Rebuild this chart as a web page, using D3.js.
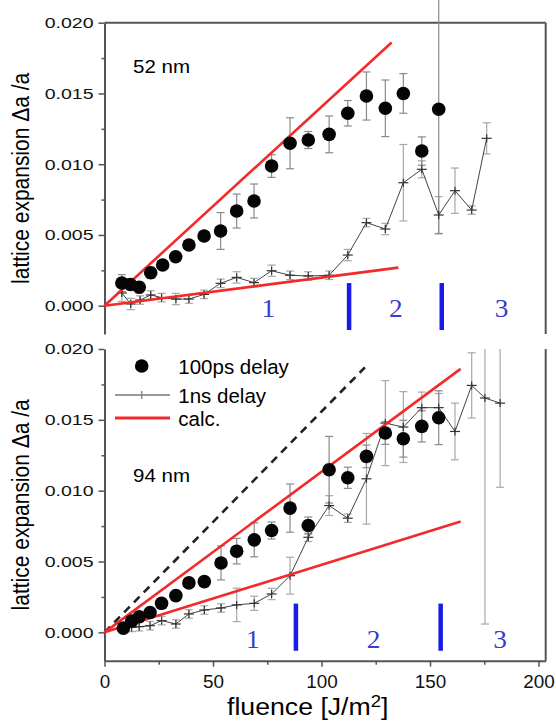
<!DOCTYPE html>
<html>
<head>
<meta charset="utf-8">
<script src="https://cdn.jsdelivr.net/npm/d3@7"></script>
<style>
body { margin: 0; background: #fff; }
svg { display: block; font-family: "Liberation Sans", Arial, sans-serif; }
</style>
</head>
<body>
<div id="chart"></div>
<script>
// --- data (fluence in J/m2, expansion in da/a) ---

// top panel, 52 nm
const topPsFluence = [8, 12, 16, 21.3, 26.8, 32.8, 38.9, 45.9, 53.5, 60.9, 68.9, 77.0, 85.5, 93.9, 103.5, 112.1, 120.7, 129.4, 137.7, 146.2, 154.0]
const topPsValue = [0.0016, 0.0015, 0.0013, 0.00233, 0.00288, 0.00346, 0.00429, 0.00493, 0.00528, 0.00669, 0.0074, 0.00987, 0.01148, 0.01171, 0.01211, 0.0136, 0.01482, 0.01395, 0.0150, 0.01093, 0.01388]
const topPsError = [0.0006, 0.0004, 0.0004, 0.0004, 0.0003, 0.0003, 0.0003, 0.0003, 0.0013, 0.0012, 0.0012, 0.0008, 0.0018, 0.0006, 0.0013, 0.0009, 0.0017, 0.0020, 0.0014, 0.0010, 0.0088]

const topNsFluence = [8, 12.1, 16.4, 21.3, 26.3, 32.9, 38.9, 45.9, 53.5, 60.9, 68.9, 77, 85.5, 93.9, 103.5, 112.1, 120.7, 129.4, 137.7, 146.2, 154, 161.5, 169.2, 176.1]
const topNsValue = [0.0009, 0.00012, 0.0004, 0.00076, 0.00057, 0.00047, 0.00047, 0.0008, 0.00158, 0.0020, 0.00163, 0.00247, 0.00215, 0.0021, 0.00215, 0.00358, 0.00587, 0.00542, 0.00869, 0.00964, 0.00641, 0.00813, 0.00676, 0.01183]
const topNsError = [0.0006, 0.0004, 0.0003, 0.0003, 0.0003, 0.0004, 0.0003, 0.0003, 0.0003, 0.0004, 0.0003, 0.0004, 0.0003, 0.0003, 0.0003, 0.0004, 0.0003, 0.0004, 0.0027, 0.0006, 0.0013, 0.0016, 0.0003, 0.0011]

// bottom panel, 94 nm
const botPsFluence = [8.7, 12.5, 16, 21, 26.3, 32.9, 38.9, 46, 53.7, 60.9, 69, 77, 85.5, 93.9, 103.5, 112.1, 120.7, 129.4, 137.7, 146.2, 154]
const botPsValue = [0.0003, 0.0008, 0.0011, 0.0014, 0.00205, 0.00259, 0.00349, 0.00358, 0.0049, 0.00573, 0.00653, 0.00719, 0.00877, 0.00754, 0.01148, 0.01091, 0.01242, 0.01407, 0.01367, 0.01454, 0.01515]
const botPsError = [0.0003, 0.0003, 0.0003, 0.0003, 0.0003, 0.0003, 0.0003, 0.0003, 0.0012, 0.0009, 0.0012, 0.0006, 0.0017, 0.0006, 0.00235, 0.00075, 0.0008, 0.0008, 0.0013, 0.0011, 0.0019]

const botNsFluence = [8.7, 12.5, 16, 21, 26.3, 32.9, 38.9, 46, 53.7, 60.9, 69, 77, 85.5, 93.9, 103.5, 112.1, 120.7, 129.4, 137.7, 146.2, 154, 161.5, 169.2, 175.3, 182.3]
const botNsValue = [0.00024, 0.00035, 0.0004, 0.00047, 0.00083, 0.00059, 0.0013, 0.00158, 0.00172, 0.00194, 0.00205, 0.00271, 0.0040, 0.00671, 0.00895, 0.00806, 0.01084, 0.01477, 0.01449, 0.01586, 0.01586, 0.01418, 0.01743, 0.01654, 0.01618]
const botNsError = [0.0003, 0.0003, 0.0003, 0.0003, 0.0003, 0.0003, 0.0003, 0.0003, 0.0003, 0.00118, 0.0005, 0.0004, 0.0013, 0.0003, 0.0007, 0.0003, 0.0032, 0.0030, 0.0025, 0.0011, 0.0010, 0.0020, 0.0023, 0.01595, 0.00594]

// calculated lines (start and end points)
const topCalcHighF = [0, 132.3], topCalcHighV = [0, 0.0186]
const topCalcLowF = [0, 135.4], topCalcLowV = [0, 0.00269]
const botCalcHighF = [0, 164.1], botCalcHighV = [0, 0.0186]
const botCalcLowF = [0, 164.1], botCalcLowV = [0, 0.00782]
const botDashF = [0, 120], botDashV = [0, 0.0187]

// regime markers
const topRegimeBars = [112.7, 155.4]
const botRegimeBars = [88.2, 154.9]
const regimeNames = ["1", "2", "3"]
const topRegimeLabelF = [75.5, 134.2, 183]
const botRegimeLabelF = [68.3, 124, 182.3]

const xTicks = [0, 50, 100, 150, 200]
const xMinor = [25, 75, 125, 175]
const yTicks = [0, 0.005, 0.010, 0.015, 0.020]
const yMinor = [0.0025, 0.0075, 0.0125, 0.0175]

const zip = (f, v, e) => f.map((d, i) => ({ f: d, v: v[i], e: e ? e[i] : 0 }))

// --- layout ---
const svg = d3.select("#chart").append("svg")
    .attr("width", 556)
    .attr("height", 721)

svg.append("rect").attr("width", 556).attr("height", 721).attr("fill", "#fff")

const x = d3.scaleLinear().domain([0, 203.3]).range([104.5, 545.7])
const yTop = d3.scaleLinear().domain([-0.002, 0.020]).range([334, 22.7])
const yBot = d3.scaleLinear().domain([-0.002, 0.020]).range([660.7, 349])

const axisColor = "#555"

// text with a slight horizontal stretch, as in the scanned figure
function label(g, px, py, str, size, sx, anchor) {
    return g.append("text")
        .attr("transform", "translate(" + px + "," + py + ") scale(" + sx + ",1)")
        .attr("text-anchor", anchor || "start")
        .style("font-size", size + "px")
        .text(str)
}

svg.append("clipPath").attr("id", "clipBot")
    .append("rect").attr("x", 0).attr("y", 349).attr("width", 556).attr("height", 372)

function drawPanel(y, ps, ns, calcs, dash, bars, labelF, name, isTop) {
    const g = svg.append("g")

    // left axis
    const ax = g.append("g")
        .attr("transform", "translate(" + x.range()[0] + ",0)")
        .call(d3.axisLeft(y).tickValues(yTicks).tickSize(6).tickSizeOuter(0).tickFormat(d3.format(".3f")))
    ax.select(".domain").attr("stroke", axisColor).attr("stroke-width", 2)
    ax.selectAll(".tick line").attr("stroke", axisColor).attr("stroke-width", 1.5)
    ax.selectAll(".tick text")
        .attr("x", null)
        .attr("fill", "#111")
        .attr("transform", "translate(-11,0) scale(1.26,1)")
        .style("font-size", "15.5px")
        .style("font-family", "'Liberation Sans', Arial, sans-serif")

    g.append("g")
        .attr("transform", "translate(" + x.range()[0] + ",0)")
        .call(d3.axisLeft(y).tickValues(yMinor).tickSize(3).tickFormat(""))
        .call(s => s.select(".domain").remove())
        .selectAll(".tick line").attr("stroke", axisColor).attr("stroke-width", 1.5)

    // frame
    g.append("line")
        .attr("x1", x.range()[1]).attr("x2", x.range()[1])
        .attr("y1", y.range()[1]).attr("y2", y.range()[0])
        .attr("stroke", axisColor).attr("stroke-width", 2)
    if (isTop) {
        g.append("line")
            .attr("x1", x.range()[0]).attr("x2", x.range()[1])
            .attr("y1", y.range()[1]).attr("y2", y.range()[1])
            .attr("stroke", axisColor).attr("stroke-width", 2)
    }

    // y label
    const cy = (y(0.020) + y(-0.002)) / 2
    g.append("text")
        .attr("transform", "translate(29," + cy + ") scale(1.15,1) rotate(-90)")
        .attr("text-anchor", "middle")
        .style("font-size", "21px")
        .text("lattice expansion \u0394a /a")

    const plot = g.append("g")
    if (!isTop) plot.attr("clip-path", "url(#clipBot)")

    // regime bars and digits
    plot.selectAll(".regime").data(bars).join("line")
        .attr("x1", d => x(d)).attr("x2", d => x(d))
        .attr("y1", y(isTop ? 0.0016 : 0.00203)).attr("y2", y(isTop ? -0.00172 : -0.0013))
        .attr("stroke", "#1a1ae6").attr("stroke-width", 4.5)
    labelF.forEach((f, i) => {
        label(plot, x(f), y(0) + (isTop ? 11 : 16), regimeNames[i], 26, 1.05, "middle")
            .style("font-family", "'Liberation Serif', 'Times New Roman', serif")
            .attr("fill", "#3b3bcf")
    })

    // dashed line
    if (dash) {
        plot.append("path")
            .datum(dash)
            .attr("fill", "none")
            .attr("stroke", "#222")
            .attr("stroke-width", 2.6)
            .attr("stroke-dasharray", "8,6")
            .attr("d", d3.line().x(d => x(d.f)).y(d => y(d.v)))
    }

    // error bars helper
    function errorBars(data, color) {
        const eb = plot.append("g").attr("stroke", color).attr("stroke-width", 1.2)
        data.forEach(d => {
            const px = x(d.f), y1 = y(d.v - d.e), y2 = y(d.v + d.e)
            eb.append("line").attr("x1", px).attr("x2", px).attr("y1", y1).attr("y2", y2)
            eb.append("line").attr("x1", px - 4).attr("x2", px + 4).attr("y1", y1).attr("y2", y1)
            eb.append("line").attr("x1", px - 4).attr("x2", px + 4).attr("y1", y2).attr("y2", y2)
        })
    }

    errorBars(ns, "#a8a8a8")
    errorBars(ps, "#8a8a8a")

    // 1 ns series line and cross markers
    plot.append("path")
        .datum(ns)
        .attr("fill", "none")
        .attr("stroke", "#444")
        .attr("stroke-width", 1)
        .attr("d", d3.line().x(d => x(d.f)).y(d => y(d.v)))
    const cross = plot.append("g").attr("stroke", "#333").attr("stroke-width", 1.2)
    ns.forEach(d => {
        cross.append("line").attr("x1", x(d.f) - 5).attr("x2", x(d.f) + 5).attr("y1", y(d.v)).attr("y2", y(d.v))
        cross.append("line").attr("x1", x(d.f)).attr("x2", x(d.f)).attr("y1", y(d.v) - 4).attr("y2", y(d.v) + 4)
    })

    // calculated red lines
    calcs.forEach(c => {
        plot.append("path")
            .datum(c)
            .attr("fill", "none")
            .attr("stroke", "#f22a2a")
            .attr("stroke-width", 2.6)
            .attr("d", d3.line().x(d => x(d.f)).y(d => y(d.v)))
    })

    // 100 ps points
    plot.selectAll(".pt").data(ps).join("circle")
        .attr("cx", d => x(d.f))
        .attr("cy", d => y(d.v))
        .attr("r", 6.8)
        .attr("fill", "#050505")

    // thickness label
    label(g, 133, y(0.020) + (isTop ? 50 : 133), name, 19, 1.08)
}

drawPanel(yTop,
    zip(topPsFluence, topPsValue, topPsError),
    zip(topNsFluence, topNsValue, topNsError),
    [zip(topCalcHighF, topCalcHighV), zip(topCalcLowF, topCalcLowV)],
    null, topRegimeBars, topRegimeLabelF, "52 nm", true)

drawPanel(yBot,
    zip(botPsFluence, botPsValue, botPsError),
    zip(botNsFluence, botNsValue, botNsError),
    [zip(botCalcHighF, botCalcHighV), zip(botCalcLowF, botCalcLowV)],
    zip(botDashF, botDashV), botRegimeBars, botRegimeLabelF, "94 nm", false)

// bottom x axis
const xa = svg.append("g")
    .attr("transform", "translate(0," + yBot.range()[0] + ")")
    .call(d3.axisBottom(x).tickValues(xTicks).tickSize(6).tickSizeOuter(0))
xa.select(".domain").attr("stroke", axisColor).attr("stroke-width", 2)
xa.selectAll(".tick line").attr("stroke", axisColor).attr("stroke-width", 1.5)
xa.selectAll(".tick text")
    .attr("y", null).attr("dy", null)
    .attr("fill", "#111")
    .attr("transform", "translate(0,27) scale(1.05,1)")
    .style("font-size", "18px")
    .style("font-family", "'Liberation Sans', Arial, sans-serif")
svg.append("g")
    .attr("transform", "translate(0," + yBot.range()[0] + ")")
    .call(d3.axisBottom(x).tickValues(xMinor).tickSize(4).tickFormat(""))
    .call(s => s.select(".domain").remove())
    .selectAll(".tick line").attr("stroke", axisColor).attr("stroke-width", 1.5)

const xl = svg.append("text")
    .attr("transform", "translate(227,715) scale(1.16,1)")
    .style("font-size", "23px")
xl.append("tspan").text("fluence [J/m")
xl.append("tspan").attr("dy", -8).style("font-size", "16px").text("2")
xl.append("tspan").attr("dy", 8).text("]")

// legend (bottom panel)
const lg = svg.append("g")
lg.append("circle").attr("cx", 141.7).attr("cy", 366).attr("r", 6.8).attr("fill", "#050505")
lg.append("line").attr("x1", 115).attr("x2", 170).attr("y1", 395).attr("y2", 395)
    .attr("stroke", "#999").attr("stroke-width", 2)
lg.append("line").attr("x1", 141.7).attr("x2", 141.7).attr("y1", 391).attr("y2", 399)
    .attr("stroke", "#888").attr("stroke-width", 1.5)
lg.append("line").attr("x1", 115).attr("x2", 170).attr("y1", 418).attr("y2", 418)
    .attr("stroke", "#f22a2a").attr("stroke-width", 3)
label(lg, 178.3, 373.5, "100ps delay", 20.5, 1.0)
label(lg, 178.3, 402.5, "1ns delay", 20.5, 1.0)
label(lg, 178.3, 426, "calc.", 20.5, 1.0)
</script>
</body>
</html>
